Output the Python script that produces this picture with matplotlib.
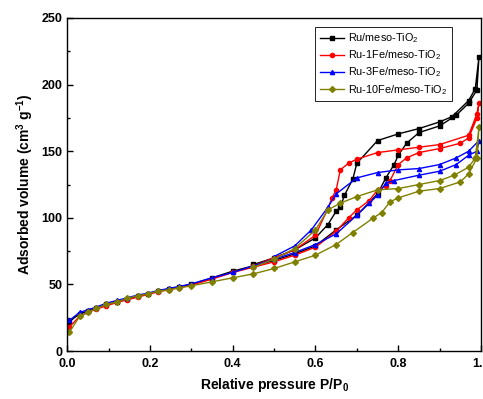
"""N2 sorption isotherms of Ru/meso-TiO2 catalysts with different Fe loadings."""

import matplotlib

matplotlib.use("Agg")
import matplotlib.pyplot as plt

plt.rcParams["font.family"] = ["Liberation Sans", "DejaVu Sans"]
plt.rcParams["mathtext.fontset"] = "custom"
plt.rcParams["mathtext.rm"] = "Liberation Sans"
plt.rcParams["mathtext.bf"] = "Liberation Sans:bold"

# shared low-pressure points (adsorption branch)
P_LOW = [0.005, 0.03, 0.05, 0.07, 0.095, 0.12, 0.145, 0.17, 0.195, 0.22, 0.245, 0.27,
         0.3, 0.35, 0.4, 0.45, 0.5, 0.55, 0.6]

# Ru/meso-TiO2
ru_p = P_LOW + [0.65, 0.7, 0.75, 0.77, 0.79, 0.8, 0.82, 0.85, 0.9, 0.94, 0.97, 0.99, 0.995,
                0.986, 0.97, 0.93, 0.9, 0.85, 0.8, 0.75, 0.7, 0.69, 0.67, 0.66, 0.65,
                0.63, 0.6, 0.55, 0.5, 0.45]
ru_v = [22, 28, 30, 32, 35, 37, 39, 41, 43, 45, 46.5, 48, 50, 55, 60, 64, 68, 73, 79,
        91, 102, 118, 130, 140, 147, 156, 164, 169, 177, 186, 196, 221,
        197, 188, 176, 172, 167, 163, 158, 141, 129, 117, 108, 105,
        95, 85, 76, 70, 65]

# Ru-1Fe/meso-TiO2
fe1_p = P_LOW + [0.65, 0.68, 0.7, 0.73, 0.75, 0.77, 0.78, 0.8, 0.82, 0.85, 0.9, 0.95, 0.97,
                 0.99, 0.995,
                 0.99, 0.97, 0.9, 0.85, 0.8, 0.75, 0.7, 0.68, 0.66, 0.65, 0.64, 0.63,
                 0.6, 0.55, 0.5, 0.45]
fe1_v = [18, 26, 29, 31.5, 34, 36.5, 38.5, 40.5, 42.5, 44.5, 46, 47.5, 49.5, 54, 59, 63, 67,
         72, 78,
         90, 100, 106, 113, 121, 124, 128, 140, 145, 149, 152, 156, 160, 175, 186,
         178, 162, 155, 153, 151, 149, 144, 141, 136, 121, 115, 107,
         87, 76, 70, 64]

# Ru-3Fe/meso-TiO2
fe3_p = P_LOW + [0.65, 0.7, 0.73, 0.75, 0.77, 0.79, 0.85, 0.9, 0.94, 0.97, 0.99, 0.995,
                 0.97, 0.94, 0.9, 0.85, 0.8, 0.75, 0.7, 0.65, 0.63, 0.59, 0.55, 0.5]
fe3_v = [23, 29, 31, 33, 36, 38, 40, 42, 43.5, 45.5, 47, 48.5, 50.5, 55, 59, 64, 69, 74,
         80,
         88, 102, 111, 117, 126, 128, 132, 135, 140, 147, 150, 158,
         150, 145, 140, 137, 136, 134, 130, 118, 108, 91, 79, 71]

# Ru-10Fe/meso-TiO2
fe10_p = P_LOW + [0.65, 0.69, 0.74, 0.76, 0.78, 0.8, 0.85, 0.9, 0.95, 0.97, 0.99, 0.995,
                  0.986, 0.97, 0.935, 0.9, 0.85, 0.8, 0.75, 0.7, 0.66, 0.63, 0.6,
                  0.55, 0.5, 0.45]
fe10_v = [14, 26, 29, 32, 35, 37, 39.5, 41.5, 43, 45, 46, 47.5, 49, 52, 55, 58, 62, 67, 72,
          80, 89, 100, 104, 112, 115, 120, 122, 127, 133, 145, 168,
          145, 138, 132, 128, 125, 122, 121, 116, 111, 106, 91,
          77, 69, 63]

SERIES = [
    ("Ru/meso-TiO$_2$", ru_p, ru_v, "black", "s"),
    ("Ru-1Fe/meso-TiO$_2$", fe1_p, fe1_v, "#ff0000", "o"),
    ("Ru-3Fe/meso-TiO$_2$", fe3_p, fe3_v, "#0000ff", "^"),
    ("Ru-10Fe/meso-TiO$_2$", fe10_p, fe10_v, "#808000", "D"),
]

fig = plt.figure(figsize=(4.83, 3.99), dpi=100)
ax = fig.add_axes([0.139, 0.12, 0.857, 0.835])

for label, p, v, color, marker in SERIES:
    ax.plot(p, v, color=color, marker=marker, markersize=3, linewidth=1, label=label)

ax.set_xlim(0, 1.0)
ax.set_ylim(0, 250)
ax.set_xticks([0.0, 0.2, 0.4, 0.6, 0.8, 1.0])
ax.set_xticklabels(["0.0", "0.2", "0.4", "0.6", "0.8", "1.0"])
ax.set_xticks([0.1, 0.3, 0.5, 0.7, 0.9], minor=True)
ax.set_yticks([0, 50, 100, 150, 200, 250])
ax.set_yticks([25, 75, 125, 175, 225], minor=True)
ax.tick_params(which="both", direction="in", width=1)
ax.tick_params(which="major", length=4, labelsize=9)
ax.tick_params(axis="x", which="major", pad=5)
ax.tick_params(which="minor", length=2.5)
for lab in ax.get_xticklabels() + ax.get_yticklabels():
    lab.set_fontweight("bold")
for sp in ax.spines.values():
    sp.set_linewidth(1)

ax.set_xlabel("Relative pressure P/P$_\\mathbf{0}$", fontsize=10, fontweight="bold")
ax.set_ylabel("Adsorbed volume (cm$^\\mathbf{3}$ g$^\\mathbf{-1}$)", fontsize=10,
              fontweight="bold")

leg = ax.legend(loc="upper left", bbox_to_anchor=(0.585, 0.99), fontsize=7.8,
                fancybox=False, edgecolor="black", framealpha=1, handlelength=2.3,
                handletextpad=0.3, labelspacing=0.3, borderpad=0.45)
leg.get_frame().set_linewidth(0.6)

fig.savefig("out.png", dpi=100)
